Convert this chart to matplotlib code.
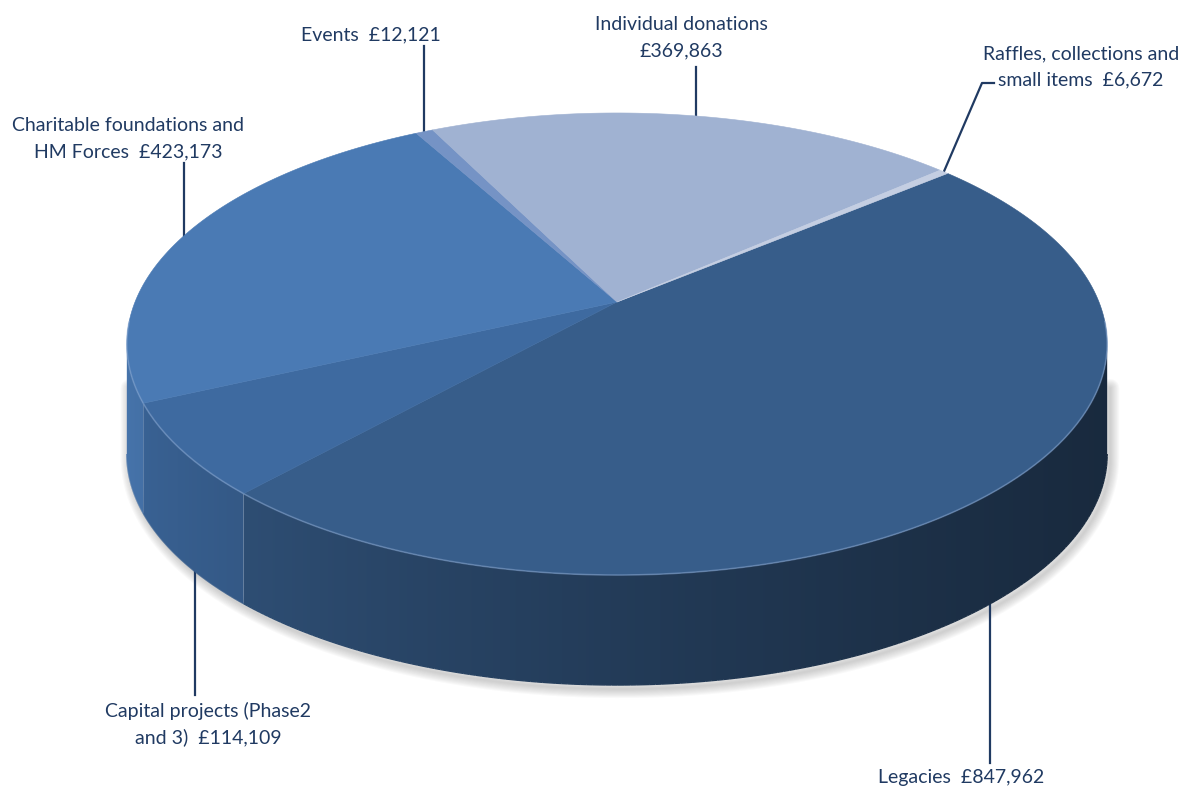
import numpy as np
import matplotlib
matplotlib.use("Agg")
import matplotlib.pyplot as plt
from matplotlib.patches import Polygon
from matplotlib.collections import LineCollection


# income sources, drawn clockwise from the first slice
sources = ["Legacies", "Capital projects", "Charitable foundations", "Events",
           "Individual donations", "Raffles"]
values = [847962, 114109, 423173, 12121, 369863, 6672]
label_lines = [
    ["Legacies  £847,962"],
    ["Capital projects (Phase2", "and 3)  £114,109"],
    ["Charitable foundations and", "HM Forces  £423,173"],
    ["Events  £12,121"],
    ["Individual donations", "£369,863"],
    ["Raffles, collections and", "small items  £6,672"],
]
top_colors = ["#375d8a", "#3e6aa0", "#4a7ab4", "#7593c5", "#a0b2d2", "#c4cee2"]

# label layout: centre x, first baseline y, and where the leader stops
label_pos = [(961, 783), (208, 717), (128, 131), (371, 40), (681, 30), (1081, 59)]
leader_stop = [763, 695, 163, 46, 67, None]
raffles_knee = [(982, 83), (994, 83)]

TEXT_COLOR = "#203a62"
START_ANGLE = 40.0

# projected disc: centre point, horizontal scale, depth scale, perspective term
CX, CY = 617.0, 302.0
S, P, G = 482.0, 223.4, 0.1818
DEPTH = 110.0
HALF_W = S / np.sqrt(1 - G ** 2)
EDGE = np.degrees(np.arcsin(G))


def rim(phi, drop=0.0, r=1.0):
    t = np.radians(phi)
    w = 1 + G * np.sin(t)
    return CX + r * S * np.cos(t) / w, CY - r * P * np.sin(t) / w + drop


def shade(hex_color, x):
    rgb = np.array(matplotlib.colors.to_rgb(hex_color))
    t = np.clip((np.asarray(x, dtype=float) - (CX - HALF_W)) / (2 * HALF_W), 0, 1)
    f = 0.95 - 0.5 * t ** 0.7
    return np.clip(np.outer(f, rgb), 0, 1)


def visible_part(lo, hi):
    # front wall is seen between the two horizontal extremes of the rim
    side_lo, side_hi = 180 + EDGE, 360 - EDGE
    for k in range(-2, 2):
        a, b = side_lo + 360 * k, side_hi + 360 * k
        if min(hi, b) > max(lo, a):
            return max(lo, a), min(hi, b)
    return None


fig = plt.figure(figsize=(11.82, 7.88), dpi=100)
ax = fig.add_axes([0, 0, 1, 1])

total = float(sum(values))
edges = START_ANGLE - 360.0 * np.concatenate([[0], np.cumsum(values)]) / total

# soft drop shadow along the lower outline
phis = np.linspace(180 + EDGE, 360 - EDGE, 200)
bx, by = rim(phis, DEPTH)
lx, ly = rim(180 + EDGE)
rx, ry = rim(360 - EDGE)
shadow = np.column_stack([np.concatenate([[lx], bx, [rx]]),
                          np.concatenate([[ly + 40], by, [ry + 40]])])
for k in range(9):
    ax.plot(shadow[:, 0] + 3, shadow[:, 1] + 4, color="#7a7a7a", alpha=0.045,
            linewidth=1 + 1.5 * k, solid_capstyle="round", zorder=1)

# side walls: horizontal gradient clipped to each visible wall
xcols = np.linspace(0, 1182, 1182)
for i in range(len(values)):
    part = visible_part(edges[i + 1], edges[i])
    if part is None:
        continue
    phis = np.linspace(part[0], part[1], 200)
    tx, ty = rim(phis)
    bx, by = rim(phis, DEPTH)
    wall = Polygon(np.column_stack([np.concatenate([tx, bx[::-1]]), np.concatenate([ty, by[::-1]])]),
                   closed=True, facecolor="none", edgecolor="none")
    ax.add_patch(wall)
    grad = shade(top_colors[i], xcols)[np.newaxis, :, :]
    im = ax.imshow(grad, extent=[0, 1182, 788, 0], aspect="auto", interpolation="bilinear", zorder=2)
    im.set_clip_path(wall)
    # smooth the lower edge of the wall
    segs = np.stack([np.column_stack([bx[:-1], by[:-1]]), np.column_stack([bx[1:], by[1:]])], axis=1)
    ax.add_collection(LineCollection(segs, colors=shade(top_colors[i], 0.5 * (bx[:-1] + bx[1:])),
                                     linewidths=1.0, zorder=2))

# top face
for i in range(len(values)):
    phis = np.linspace(edges[i], edges[i + 1], max(int(abs(edges[i] - edges[i + 1])), 2) + 1)
    tx, ty = rim(phis)
    pts = np.column_stack([np.concatenate([[CX], tx]), np.concatenate([[CY], ty])])
    ax.add_patch(Polygon(pts, closed=True, facecolor=top_colors[i], edgecolor=top_colors[i],
                         linewidth=0.4, zorder=3))

# light bevel along the front rim
phis = np.linspace(185, 355, 200)
hx, hy = rim(phis)
ax.plot(hx, hy, color="#8aa8d2", alpha=0.45, linewidth=1.2, zorder=4)

# labels and leader lines (leaders sit behind the pie so they stop at its edge)
for i in range(len(values)):
    mid = 0.5 * (edges[i] + edges[i + 1])
    if np.sin(np.radians(mid)) < 0:
        ax_, ay_ = rim(mid, DEPTH, r=0.97)
    else:
        ax_, ay_ = rim(mid)
    if leader_stop[i] is not None:
        ax.plot([ax_, ax_], [ay_, leader_stop[i]], color=TEXT_COLOR, linewidth=1.6, zorder=1.5)
    else:
        xs = [ax_] + [p[0] for p in raffles_knee]
        ys = [ay_] + [p[1] for p in raffles_knee]
        ax.plot(xs, ys, color=TEXT_COLOR, linewidth=1.6, zorder=1.5)
    x0, y0 = label_pos[i]
    for j, line in enumerate(label_lines[i]):
        ax.text(x0, y0 + 26 * j, line, ha="center", va="baseline", fontsize=14,
                family="Lato", color=TEXT_COLOR, zorder=6)

ax.set_xlim(0, 1182)
ax.set_ylim(788, 0)
ax.axis("off")

fig.savefig("out.png", dpi=100)
